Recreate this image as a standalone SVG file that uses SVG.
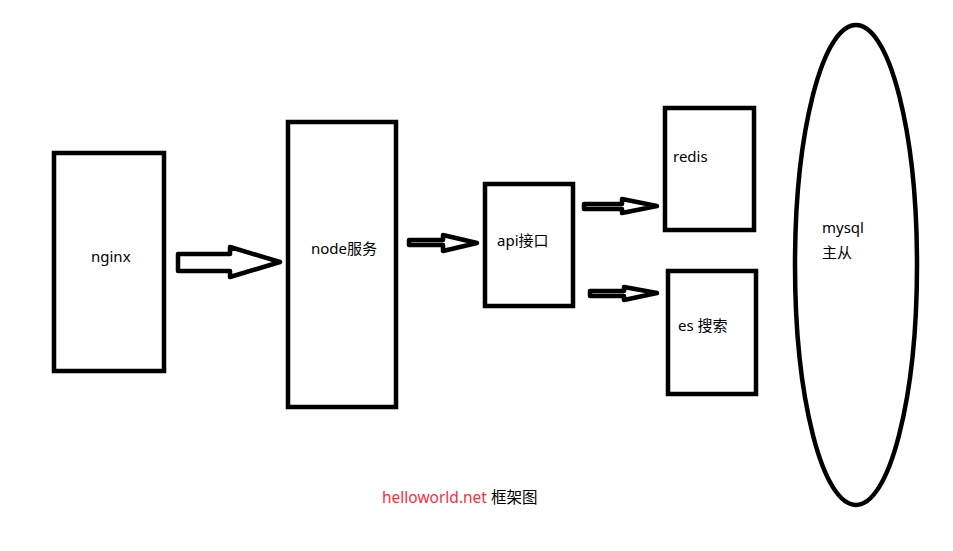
<svg xmlns="http://www.w3.org/2000/svg" width="953" height="551" viewBox="0 0 953 551">
<style>
.box{fill:#fff;stroke:#000;stroke-width:4.5}
.arr{fill:#fff;stroke:#000;stroke-width:4.5;stroke-linejoin:round}
.t{font-family:"Noto Sans","Noto Sans CJK SC",sans-serif;font-size:15px;fill:#000}
.cap{font-size:15.5px}
.red{fill:#ff2d3c}
</style>
<rect width="953" height="551" fill="#fff"/>
<g id="nginx"><rect class="box" x="54" y="153" width="110" height="218"/><text class="t" x="91" y="262">nginx</text></g>
<g id="node"><rect class="box" x="288" y="122" width="108" height="285"/><text class="t" x="311" y="254">node服务</text></g>
<g id="api"><rect class="box" x="485" y="184" width="88" height="122"/><text class="t" x="497" y="246">api接口</text></g>
<g id="redis"><rect class="box" x="665" y="108" width="89" height="122"/><text class="t" x="673" y="162">redis</text></g>
<g id="es"><rect class="box" x="668" y="271" width="88" height="123"/><text class="t" x="678" y="331">es 搜索</text></g>
<g id="mysql"><ellipse class="box" cx="856" cy="265" rx="61" ry="240"/><text class="t" x="822" y="233">mysql</text><text class="t" x="822" y="258">主从</text></g>
<g id="connectors">
<polygon class="arr" points="178,254 230,254 230,247 280,262 230,277 230,271 178,271"/>
<polygon class="arr" points="409,240 443,240 443,235 477,243 443,251 443,245 409,245"/>
<polygon class="arr" points="584,204 622,204 622,199 657,206 622,213 622,209 584,209"/>
<polygon class="arr" points="590,291 624,291 624,287 657,293 624,300 624,296 590,296"/>
</g>
<g id="caption"><text class="t cap" x="382" y="503"><tspan class="red">helloworld.net</tspan> 框架图</text></g>
</svg>
